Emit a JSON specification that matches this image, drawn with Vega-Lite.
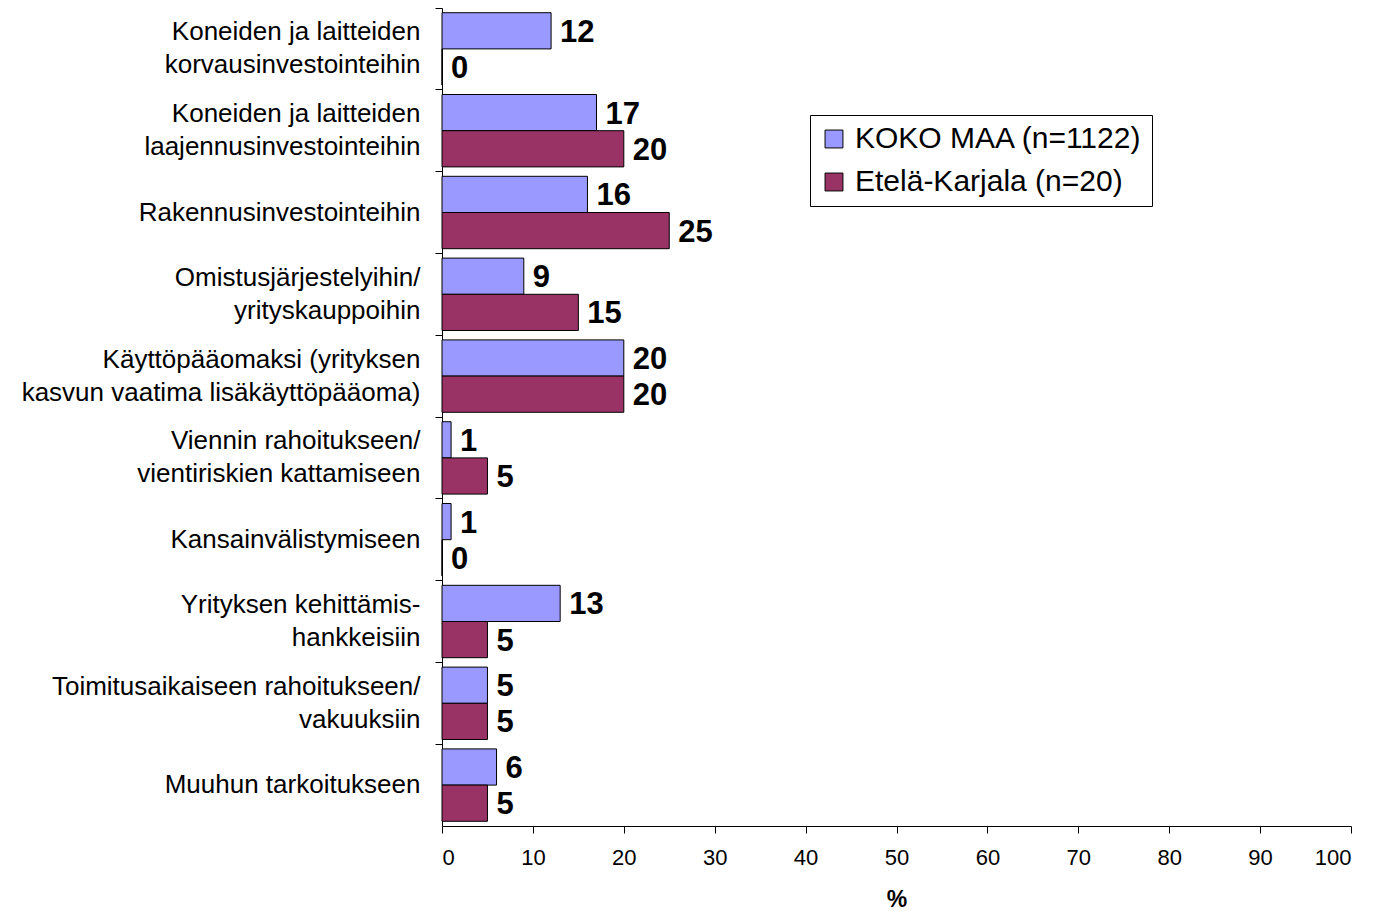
{
  "$schema": "https://vega.github.io/schema/vega-lite/v6.json",
  "width": 909,
  "height": 818,
  "autosize": {"type": "none"},
  "padding": {"left": 442, "top": 8, "right": 24, "bottom": 85},
  "background": "white",
  "config": {
    "font": "Liberation Sans",
    "view": {"stroke": null}
  },
  "data": {
    "values": [
      {"kohde": "Koneiden ja laitteiden|korvausinvestointeihin", "sarja": "KOKO MAA (n=1122)", "arvo": 12},
      {"kohde": "Koneiden ja laitteiden|korvausinvestointeihin", "sarja": "Etelä-Karjala (n=20)", "arvo": 0},
      {"kohde": "Koneiden ja laitteiden|laajennusinvestointeihin", "sarja": "KOKO MAA (n=1122)", "arvo": 17},
      {"kohde": "Koneiden ja laitteiden|laajennusinvestointeihin", "sarja": "Etelä-Karjala (n=20)", "arvo": 20},
      {"kohde": "Rakennusinvestointeihin", "sarja": "KOKO MAA (n=1122)", "arvo": 16},
      {"kohde": "Rakennusinvestointeihin", "sarja": "Etelä-Karjala (n=20)", "arvo": 25},
      {"kohde": "Omistusjärjestelyihin/|yrityskauppoihin", "sarja": "KOKO MAA (n=1122)", "arvo": 9},
      {"kohde": "Omistusjärjestelyihin/|yrityskauppoihin", "sarja": "Etelä-Karjala (n=20)", "arvo": 15},
      {"kohde": "Käyttöpääomaksi (yrityksen|kasvun vaatima lisäkäyttöpääoma)", "sarja": "KOKO MAA (n=1122)", "arvo": 20},
      {"kohde": "Käyttöpääomaksi (yrityksen|kasvun vaatima lisäkäyttöpääoma)", "sarja": "Etelä-Karjala (n=20)", "arvo": 20},
      {"kohde": "Viennin rahoitukseen/|vientiriskien kattamiseen", "sarja": "KOKO MAA (n=1122)", "arvo": 1},
      {"kohde": "Viennin rahoitukseen/|vientiriskien kattamiseen", "sarja": "Etelä-Karjala (n=20)", "arvo": 5},
      {"kohde": "Kansainvälistymiseen", "sarja": "KOKO MAA (n=1122)", "arvo": 1},
      {"kohde": "Kansainvälistymiseen", "sarja": "Etelä-Karjala (n=20)", "arvo": 0},
      {"kohde": "Yrityksen kehittämis-|hankkeisiin", "sarja": "KOKO MAA (n=1122)", "arvo": 13},
      {"kohde": "Yrityksen kehittämis-|hankkeisiin", "sarja": "Etelä-Karjala (n=20)", "arvo": 5},
      {"kohde": "Toimitusaikaiseen rahoitukseen/|vakuuksiin", "sarja": "KOKO MAA (n=1122)", "arvo": 5},
      {"kohde": "Toimitusaikaiseen rahoitukseen/|vakuuksiin", "sarja": "Etelä-Karjala (n=20)", "arvo": 5},
      {"kohde": "Muuhun tarkoitukseen", "sarja": "KOKO MAA (n=1122)", "arvo": 6},
      {"kohde": "Muuhun tarkoitukseen", "sarja": "Etelä-Karjala (n=20)", "arvo": 5}
    ]
  },
  "encoding": {
    "y": {
      "field": "kohde",
      "type": "nominal",
      "sort": null,
      "scale": {"paddingInner": 0, "paddingOuter": 0},
      "axis": {
        "title": null,
        "bandPosition": 0,
        "labelExpr": "indexof(datum.label, '|') >= 0 ? [split(datum.label, '|')[0], '\u200b', split(datum.label, '|')[1]] : ['\u200b', datum.label]",
        "labelFontSize": 26,
        "labelLineHeight": 16.5,
        "labelOffset": -16.5,
        "labelColor": "black",
        "labelPadding": 15,
        "labelLimit": 600,
        "tickSize": 7,
        "tickColor": "black",
        "domainColor": "black",
        "grid": false
      }
    },
    "yOffset": {
      "field": "sarja",
      "type": "nominal",
      "sort": ["KOKO MAA (n=1122)", "Etelä-Karjala (n=20)"],
      "scale": {"paddingInner": 0, "paddingOuter": 0.13}
    },
    "x": {
      "field": "arvo",
      "type": "quantitative",
      "scale": {"domain": [0, 100], "nice": false},
      "axis": {
        "title": "%",
        "titleFontSize": 23,
        "titleFontWeight": "bold",
        "titleColor": "black",
        "titlePadding": 20,
        "values": [0, 10, 20, 30, 40, 50, 60, 70, 80, 90, 100],
        "labelFontSize": 22,
        "labelColor": "black",
        "labelPadding": 14,
        "tickSize": 7,
        "tickColor": "black",
        "domainColor": "black",
        "grid": false
      }
    }
  },
  "layer": [
    {
      "mark": {"type": "bar", "stroke": "black", "strokeWidth": 1},
      "encoding": {
        "color": {
          "field": "sarja",
          "type": "nominal",
          "sort": ["KOKO MAA (n=1122)", "Etelä-Karjala (n=20)"],
          "scale": {"domain": ["KOKO MAA (n=1122)", "Etelä-Karjala (n=20)"], "range": ["#9999FF", "#993366"]},
          "legend": {
            "title": null,
            "orient": "none",
            "legendX": 368,
            "legendY": 107,
            "symbolType": "square",
            "symbolSize": 320,
            "symbolStrokeColor": "black",
            "symbolStrokeWidth": 1,
            "symbolOpacity": 1,
            "labelFontSize": 30,
            "labelColor": "black",
            "labelOffset": 6,
            "labelLimit": 600,
            "rowPadding": 13,
            "strokeColor": "black",
            "fillColor": "white",
            "padding": 9
          }
        }
      }
    },
    {
      "mark": {"type": "text", "align": "left", "baseline": "middle", "dx": 9, "dy": 2, "fontSize": 31, "fontWeight": "bold", "color": "black"},
      "encoding": {
        "text": {"field": "arvo", "type": "quantitative"}
      }
    }
  ]
}
